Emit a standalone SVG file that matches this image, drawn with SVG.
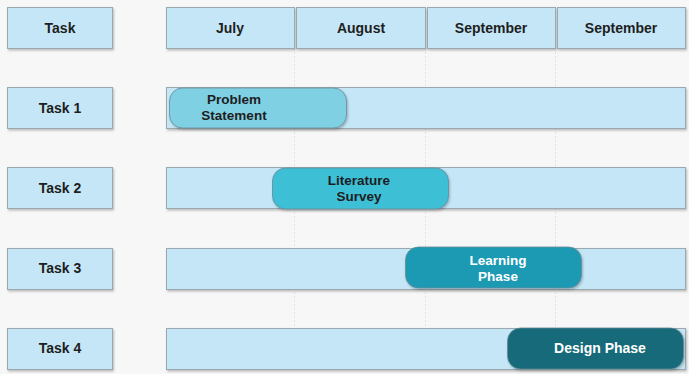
<svg xmlns="http://www.w3.org/2000/svg" width="689" height="374" viewBox="0 0 689 374">
<defs>
<filter id="sh" x="-5%" y="-10%" width="110%" height="130%"><feDropShadow dx="1" dy="1.5" stdDeviation="1" flood-color="#000" flood-opacity="0.25"/></filter>
</defs>
<style>
.box{fill:#c5e6f6;stroke:#9aa8b0;stroke-width:1;filter:url(#sh)}
.t{font-family:"Liberation Sans",Arial,sans-serif;font-weight:bold;font-size:14px;fill:#1e1e1e;text-anchor:middle}
.t2{font-size:13.5px}
.w{fill:#ffffff}
.pill{stroke:#6a8a94;stroke-width:0.8;filter:url(#sh)}
.grid{stroke:#e2e2e2;stroke-width:1;stroke-dasharray:2 2}
</style>
<rect width="689" height="374" fill="#f7f7f7"/>
<g id="connectors">
<line class="grid" x1="294.5" y1="48" x2="294.5" y2="372"/>
<line class="grid" x1="425.5" y1="48" x2="425.5" y2="372"/>
<line class="grid" x1="555.5" y1="48" x2="555.5" y2="372"/>
</g>
<g id="header-task"><rect class="box" x="7.5" y="7.5" width="105" height="41"/><text class="t" x="60" y="33">Task</text></g>
<g id="header-july"><rect class="box" x="166.5" y="7.5" width="128" height="41"/><text class="t" x="230" y="33">July</text></g>
<g id="header-august"><rect class="box" x="296.5" y="7.5" width="129" height="41"/><text class="t" x="361" y="33">August</text></g>
<g id="header-september1"><rect class="box" x="427.5" y="7.5" width="128" height="41"/><text class="t" x="491" y="33">September</text></g>
<g id="header-september2"><rect class="box" x="557.5" y="7.5" width="128" height="41"/><text class="t" x="621" y="33">September</text></g>

<g id="task1"><rect class="box" x="7.5" y="87.5" width="105" height="41"/><text class="t" x="60" y="113">Task 1</text></g>
<g id="task2"><rect class="box" x="7.5" y="167.5" width="105" height="41"/><text class="t" x="60" y="193">Task 2</text></g>
<g id="task3"><rect class="box" x="7.5" y="248.5" width="105" height="41"/><text class="t" x="60" y="273">Task 3</text></g>
<g id="task4"><rect class="box" x="7.5" y="328.5" width="105" height="41"/><text class="t" x="60" y="353">Task 4</text></g>

<g id="row1"><rect class="box" x="166.5" y="87.5" width="519" height="41"/></g>
<g id="row2"><rect class="box" x="166.5" y="167.5" width="519" height="41"/></g>
<g id="row3"><rect class="box" x="166.5" y="248.5" width="519" height="41"/></g>
<g id="row4"><rect class="box" x="166.5" y="328.5" width="519" height="41"/></g>

<g id="problem-statement"><rect class="pill" x="169.5" y="88" width="177" height="40" rx="13" fill="#80d0e4"/><text class="t t2" x="234" y="104">Problem</text><text class="t t2" x="234" y="119.5">Statement</text></g>
<g id="literature-survey"><rect class="pill" x="272.5" y="168" width="176" height="41" rx="13" fill="#3dbfd6"/><text class="t t2" x="359" y="185">Literature</text><text class="t t2" x="359" y="200.5">Survey</text></g>
<g id="learning-phase"><rect class="pill" x="405.5" y="247" width="176" height="41" rx="13" fill="#1c9ab4"/><text class="t t2 w" x="498" y="265">Learning</text><text class="t t2 w" x="498" y="280.5">Phase</text></g>
<g id="design-phase"><rect class="pill" x="507.5" y="328" width="176" height="41" rx="13" fill="#126a7a"/><text class="t w" x="600" y="353">Design Phase</text></g>
</svg>
